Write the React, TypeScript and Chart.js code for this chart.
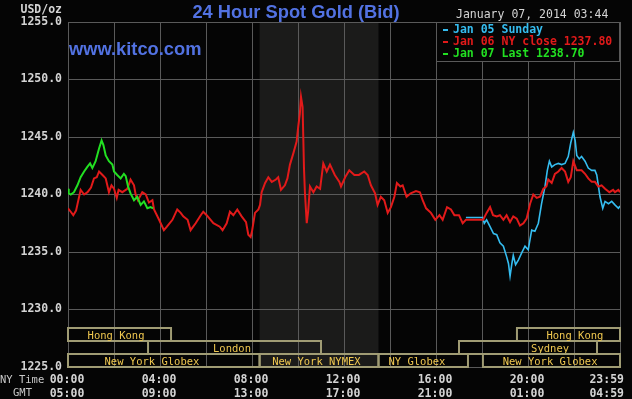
import React, { useEffect, useRef } from 'react';
import { Chart, registerables } from 'chart.js';

Chart.register(...registerables);

// ---------- data ----------
const RED_T = [0, 0.12, 0.23, 0.35, 0.55, 0.7, 0.85, 1.0, 1.13, 1.25, 1.35, 1.5, 1.64, 1.78, 1.89, 2.0, 2.12, 2.2, 2.36, 2.58, 2.72, 2.87, 2.94, 3.04, 3.23, 3.38, 3.52, 3.67, 3.74, 3.96, 4.17, 4.3, 4.54, 4.75, 4.9, 5.01, 5.2, 5.33, 5.55, 5.77, 5.88, 6.03, 6.32, 6.6, 6.72, 6.9, 7.04, 7.19, 7.36, 7.55, 7.74, 7.84, 7.94, 8.0, 8.13, 8.28, 8.35, 8.42, 8.57, 8.71, 8.86, 9.04, 9.14, 9.26, 9.43, 9.54, 9.65, 9.8, 9.94, 10.01, 10.08, 10.13, 10.2, 10.26, 10.3, 10.38, 10.44, 10.52, 10.67, 10.81, 10.96, 11.1, 11.25, 11.39, 11.6, 11.8, 11.87, 12.05, 12.23, 12.45, 12.65, 12.88, 13.03, 13.17, 13.35, 13.46, 13.6, 13.75, 13.9, 14.04, 14.19, 14.3, 14.45, 14.55, 14.72, 14.9, 15.13, 15.3, 15.42, 15.57, 15.78, 15.97, 16.15, 16.29, 16.48, 16.65, 16.8, 17.0, 17.16, 17.3, 18.05, 18.2, 18.35, 18.48, 18.64, 18.78, 18.93, 19.07, 19.22, 19.36, 19.51, 19.65, 19.8, 19.94, 20.09, 20.23, 20.38, 20.52, 20.67, 20.8, 20.88, 21.03, 21.17, 21.32, 21.46, 21.61, 21.75, 21.86, 21.97, 22.12, 22.33, 22.48, 22.62, 22.77, 22.91, 23.06, 23.2, 23.35, 23.54, 23.7, 23.78, 23.93, 24.0];
const RED_V = [1238.8, 1238.5, 1238.2, 1238.6, 1240.4, 1240.0, 1240.2, 1240.6, 1241.4, 1241.5, 1242.0, 1241.7, 1241.4, 1240.2, 1240.8, 1240.5, 1239.7, 1240.4, 1240.2, 1240.5, 1241.3, 1240.8, 1240.0, 1239.5, 1240.2, 1240.0, 1239.3, 1239.5, 1238.7, 1237.8, 1236.9, 1237.2, 1237.8, 1238.7, 1238.4, 1238.1, 1237.8, 1236.9, 1237.5, 1238.2, 1238.5, 1238.2, 1237.5, 1237.2, 1236.9, 1237.5, 1238.5, 1238.2, 1238.7, 1238.1, 1237.6, 1236.5, 1236.3, 1236.8, 1238.4, 1238.7, 1239.1, 1240.2, 1241.0, 1241.5, 1241.1, 1241.3, 1241.5, 1240.4, 1240.8, 1241.4, 1242.6, 1243.6, 1244.6, 1245.9, 1247.0, 1248.5, 1247.6, 1242.3, 1240.2, 1237.5, 1238.5, 1240.7, 1240.2, 1240.7, 1240.5, 1242.7, 1242.0, 1242.6, 1241.7, 1241.1, 1240.7, 1241.5, 1242.1, 1241.7, 1241.7, 1242.0, 1241.7, 1240.8, 1240.1, 1239.1, 1239.8, 1239.5, 1238.4, 1238.9, 1239.8, 1241.0, 1240.7, 1240.8, 1239.8, 1240.1, 1240.3, 1240.2, 1239.5, 1238.8, 1238.4, 1237.8, 1238.2, 1237.8, 1238.9, 1238.7, 1238.2, 1238.2, 1237.5, 1237.8, 1237.8, 1238.4, 1238.9, 1238.2, 1238.1, 1238.2, 1237.8, 1238.2, 1237.6, 1238.1, 1237.9, 1237.3, 1237.5, 1237.9, 1239.2, 1240.0, 1239.7, 1239.8, 1240.5, 1240.7, 1241.3, 1241.0, 1241.8, 1242.0, 1242.3, 1242.0, 1241.1, 1241.5, 1242.9, 1242.1, 1242.1, 1241.8, 1241.4, 1241.1, 1241.1, 1240.7, 1240.8, 1240.5, 1240.2, 1240.4, 1240.2, 1240.4, 1240.2];

const CYAN_T = [17.3, 18.03, 18.1, 18.2, 18.35, 18.5, 18.64, 18.78, 18.93, 19.07, 19.15, 19.22, 19.3, 19.36, 19.46, 19.58, 19.72, 19.87, 20.01, 20.16, 20.3, 20.45, 20.59, 20.74, 20.84, 20.93, 21.03, 21.17, 21.32, 21.46, 21.61, 21.75, 21.86, 21.97, 22.05, 22.12, 22.23, 22.33, 22.48, 22.62, 22.77, 22.91, 22.99, 23.13, 23.25, 23.35, 23.5, 23.64, 23.78, 23.93, 24.0];
const CYAN_V = [1238.0, 1238.0, 1237.5, 1237.8, 1237.2, 1236.6, 1236.5, 1235.8, 1235.5, 1234.6, 1234.0, 1232.9, 1234.0, 1234.7, 1233.9, 1234.3, 1234.9, 1235.5, 1235.2, 1236.9, 1236.8, 1237.5, 1239.2, 1240.7, 1242.1, 1242.9, 1242.4, 1242.6, 1242.7, 1242.6, 1242.7, 1243.3, 1244.5, 1245.4, 1244.7, 1243.4, 1243.1, 1243.3, 1242.9, 1242.3, 1242.1, 1242.1, 1241.7, 1239.8, 1238.8, 1239.4, 1239.2, 1239.4, 1239.1, 1238.8, 1239.0];

const GREEN_T = [0, 0.03, 0.12, 0.26, 0.41, 0.55, 0.7, 0.84, 0.96, 1.06, 1.2, 1.35, 1.46, 1.54, 1.64, 1.78, 1.93, 2.0, 2.14, 2.29, 2.43, 2.51, 2.61, 2.72, 2.87, 3.01, 3.16, 3.3, 3.45, 3.59, 3.7];
const GREEN_V = [1240.5, 1240.1, 1240.0, 1240.2, 1240.8, 1241.5, 1242.0, 1242.4, 1242.7, 1242.3, 1242.9, 1244.0, 1244.7, 1244.3, 1243.4, 1242.9, 1242.6, 1242.0, 1241.7, 1241.4, 1241.8, 1241.6, 1240.7, 1240.1, 1239.5, 1239.8, 1239.1, 1239.4, 1238.8, 1238.9, 1238.8];

const Y_MIN = 1225;
const Y_MAX = 1255;
const Y_STEP = 5;
const X_MIN = 0;
const X_MAX = 24;
const X_LABEL_HOURS = [0, 4, 8, 12, 16, 20, 24];
const NY_TIME_LABELS = ['00:00', '04:00', '08:00', '12:00', '16:00', '20:00', '23:59'];
const GMT_LABELS = ['05:00', '09:00', '13:00', '17:00', '21:00', '01:00', '04:59'];

const LEGEND_LABELS = ['Jan 05 Sunday', 'Jan 06 NY close 1237.80', 'Jan 07 Last 1238.70'];
const TITLE = '24 Hour Spot Gold (Bid)';
const SITE = 'www.kitco.com';
const DATE_TEXT = 'January 07, 2014 03:44';
const UNIT = 'USD/oz';

const SESSION_NAMES = ['Hong Kong', 'London', 'New York Globex', 'New York NYMEX', 'NY Globex', 'Sydney', 'Hong Kong', 'New York Globex'];
const SESSION_START = [0, 3.48, 0, 8.33, 13.5, 17.0, 19.52, 18.04];
const SESSION_END = [4.48, 11.0, 8.33, 13.5, 17.39, 23.0, 24, 24];
const SESSION_ROW = [0, 1, 2, 2, 2, 1, 0, 2];
const SESSION_LABEL_AT = [2.09, 7.13, 3.65, 10.8, 15.17, 20.96, 22.04, 20.96];

const NYMEX_SHADE = [8.33, 13.5];

// ---------- styles ----------
const RED = '#e21a1a';
const CYAN = '#35bdf0';
const GREEN = '#22e022';
const GRID = '#5a5a5a';
const TEXT = '#d4d4d4';
const BLUE = '#5272e2';
const BOX = '#a09c74';
const BOX_TEXT = '#f0c850';
const MONO = '"DejaVu Sans Mono", monospace';

const toPts = (t: number[], v: number[]) => t.map((x, i) => ({ x, y: v[i] }));

const kitcoPlugin = {
  id: 'kitco',
  beforeDraw(chart: any) {
    const { ctx, chartArea, scales } = chart;
    ctx.save();
    ctx.fillStyle = '#050505';
    ctx.fillRect(0, 0, chart.width, chart.height);
    const x1 = scales.x.getPixelForValue(NYMEX_SHADE[0]);
    const x2 = scales.x.getPixelForValue(NYMEX_SHADE[1]);
    ctx.fillStyle = '#1b1b1a';
    ctx.fillRect(x1, chartArea.top, x2 - x1, chartArea.bottom - chartArea.top);
    ctx.restore();
  },
  afterDatasetsDraw(chart: any) {
    const { ctx, chartArea, scales } = chart;
    const xs = scales.x;
    ctx.save();
    // session boxes
    const rowH = 13;
    ctx.lineWidth = 2;
    ctx.strokeStyle = BOX;
    ctx.font = `10.5px ${MONO}`;
    ctx.fillStyle = BOX_TEXT;
    ctx.textAlign = 'center';
    ctx.textBaseline = 'alphabetic';
    SESSION_NAMES.forEach((name, i) => {
      const a = xs.getPixelForValue(SESSION_START[i]);
      const b = xs.getPixelForValue(SESSION_END[i]);
      const top = chartArea.bottom - (3 - SESSION_ROW[i]) * rowH;
      ctx.strokeRect(a, top, b - a, rowH);
      ctx.fillText(name, xs.getPixelForValue(SESSION_LABEL_AT[i]), top + 10.5);
    });
    // legend box
    const lx = xs.getPixelForValue(16);
    const ly = chartArea.top;
    const lw = chartArea.right - lx;
    const lh = 39;
    ctx.fillStyle = '#050505';
    ctx.fillRect(lx, ly, lw, lh);
    ctx.strokeStyle = GRID;
    ctx.lineWidth = 1;
    ctx.strokeRect(lx + 0.5, ly + 0.5, lw - 1, lh);
    const colors = [CYAN, RED, GREEN];
    ctx.font = `bold 11.5px ${MONO}`;
    ctx.textAlign = 'left';
    LEGEND_LABELS.forEach((lab, i) => {
      const base = ly + 11 + i * 12;
      ctx.fillStyle = colors[i];
      ctx.fillRect(lx + 7, base - 4, 5, 2);
      ctx.fillText(lab, lx + 17, base);
    });
    ctx.restore();
  },
  afterDraw(chart: any) {
    const { ctx, scales } = chart;
    const xs = scales.x;
    ctx.save();
    // title + site
    ctx.fillStyle = BLUE;
    ctx.font = `bold 18.3px "Liberation Sans", Arial, sans-serif`;
    ctx.textAlign = 'center';
    ctx.fillText(TITLE, 296, 18);
    ctx.textAlign = 'left';
    ctx.fillText(SITE, 69, 55);
    // date, unit
    ctx.fillStyle = TEXT;
    ctx.font = `11.5px ${MONO}`;
    ctx.fillText(DATE_TEXT, 456, 18);
    ctx.font = `bold 11.5px ${MONO}`;
    ctx.textAlign = 'right';
    ctx.fillText(UNIT, 62, 13);
    // x labels
    ctx.textAlign = 'center';
    X_LABEL_HOURS.forEach((h, i) => {
      let px = xs.getPixelForValue(h);
      const w = ctx.measureText(NY_TIME_LABELS[i]).width;
      px = Math.min(px, chart.width - 7 - w / 2);
      ctx.fillText(NY_TIME_LABELS[i], px - 1, 383);
      ctx.fillText(GMT_LABELS[i], px - 1, 397);
    });
    ctx.font = `10.5px ${MONO}`;
    ctx.fillStyle = '#c8c8c8';
    ctx.textAlign = 'left';
    ctx.fillText('NY Time', 0, 383);
    ctx.textAlign = 'center';
    ctx.fillText('GMT', 22.5, 396);
    ctx.restore();
  },
};

export default function App() {
  const ref = useRef<HTMLCanvasElement | null>(null);
  useEffect(() => {
    document.body.style.margin = '0';
    document.body.style.background = '#000';
    const canvas = ref.current;
    if (!canvas) return;
    const chart = new Chart(canvas, {
      type: 'line',
      data: {
        datasets: [
          { label: LEGEND_LABELS[2], data: toPts(GREEN_T, GREEN_V), borderColor: GREEN, borderWidth: 2, pointRadius: 0, order: 0 },
          { label: LEGEND_LABELS[1], data: toPts(RED_T, RED_V), borderColor: RED, borderWidth: 2, pointRadius: 0, order: 1 },
          { label: LEGEND_LABELS[0], data: toPts(CYAN_T, CYAN_V), borderColor: CYAN, borderWidth: 1.6, pointRadius: 0, order: 2 },
        ],
      },
      options: {
        animation: false,
        responsive: false,
        maintainAspectRatio: false,
        devicePixelRatio: 1,
        layout: { padding: { top: 22, right: 12, left: 0, bottom: 0 } },
        plugins: { legend: { display: false }, tooltip: { enabled: false }, title: { display: false } },
        elements: { line: { tension: 0 } },
        scales: {
          x: {
            type: 'linear',
            min: X_MIN,
            max: X_MAX,
            ticks: { display: false, stepSize: 2 },
            grid: { color: GRID, drawTicks: false, lineWidth: 1 },
            border: { color: GRID },
            afterFit: (s: any) => { s.height = 32; },
          },
          y: {
            min: Y_MIN,
            max: Y_MAX,
            ticks: {
              stepSize: Y_STEP,
              color: TEXT,
              padding: 6,
              font: { family: '"DejaVu Sans Mono", monospace', size: 11.5, weight: 'bold' },
              callback: (v: any) => Number(v).toFixed(1),
            },
            grid: { color: GRID, drawTicks: false, lineWidth: 1 },
            border: { color: GRID },
            afterFit: (s: any) => { s.width = 68; },
          },
        },
      },
      plugins: [kitcoPlugin],
    } as any);
    return () => chart.destroy();
  }, []);
  return (
    <div style={{ width: 632, height: 399, background: '#000' }}>
      <canvas ref={ref} width={632} height={399} />
    </div>
  );
}
